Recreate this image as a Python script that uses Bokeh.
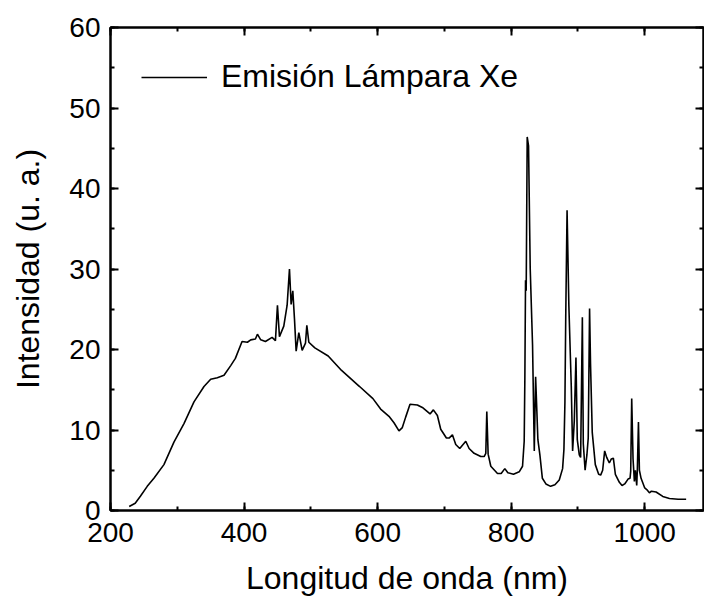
from bokeh.plotting import figure
from bokeh.models import (Range1d, LinearAxis, SingleIntervalTicker, Legend, LegendItem,
                          CustomJSTickFormatter)
from bokeh.embed import file_html
from bokeh.resources import INLINE

wavelength = [228, 237, 245, 255, 265, 280, 295, 310, 325, 340, 350, 360, 370, 380, 387, 397, 405,
              410, 417, 420, 425, 432, 442, 447, 450, 453, 459.5, 464.5, 468, 470.5, 473, 475.5,
              478, 482, 487, 492, 494, 497, 506, 526, 546, 573, 593, 604.5, 617, 624.5, 632, 637,
              642, 648.5, 659.5, 667, 678.5, 683.5, 689.5, 694.5, 703, 707, 712, 717, 723, 732,
              737, 744.5, 754.5, 759.5, 762, 763.5, 765.5, 769.5, 779.5, 785, 790.5, 795, 803.5,
              812, 817, 819.5, 820.5, 821.5, 822.5, 824, 826, 828.5, 832, 834.6, 836.6, 840, 843,
              846.7, 852, 859, 865.5, 872, 877, 879, 880.5, 881.7, 883.7, 886.4, 890, 892, 894.5,
              897, 899, 902, 904, 906.6, 908, 910.7, 913.4, 915.4, 917.4, 918.8, 921.4, 926, 931,
              934, 937, 940, 943, 947, 950, 953, 956, 962, 966, 970, 975, 978, 979, 980.5, 982.5,
              984.5, 986, 988, 989, 990.6, 992, 994.5, 1000, 1003, 1007, 1010, 1017, 1027, 1037,
              1050, 1062]
intensity = [0.5, 0.9, 1.8, 3.0, 4.0, 5.7, 8.5, 10.8, 13.5, 15.4, 16.3, 16.5, 16.8, 18.0, 18.9,
             21.0, 20.9, 21.2, 21.3, 21.9, 21.2, 21.0, 21.5, 21.1, 25.5, 21.6, 22.9, 25.5, 30.0,
             25.6, 27.3, 23.8, 19.8, 22.1, 19.9, 20.8, 23.0, 20.9, 20.2, 19.2, 17.4, 15.4, 13.9,
             12.6, 11.7, 10.9, 9.9, 10.3, 11.6, 13.2, 13.1, 12.8, 12.0, 12.5, 11.8, 10.1, 9.0, 9.0,
             9.4, 8.2, 7.7, 8.6, 7.7, 7.1, 6.7, 6.7, 7.1, 12.3, 7.0, 5.5, 4.6, 4.6, 5.2, 4.7, 4.5,
             4.8, 5.5, 8.6, 16.5, 28.6, 27.3, 46.4, 45.3, 30.1, 20.6, 7.4, 16.6, 8.8, 6.9, 4.0,
             3.3, 3.0, 3.2, 3.8, 5.2, 7.6, 13.5, 24.0, 37.3, 25.4, 15.4, 7.4, 11.1, 19.0, 8.8,
             6.9, 6.6, 24.0, 8.3, 5.0, 6.9, 9.0, 25.1, 18.3, 9.7, 5.7, 4.5, 4.4, 5.0, 7.4, 6.6,
             5.9, 6.4, 6.5, 4.5, 3.5, 3.1, 3.3, 3.9, 4.0, 4.9, 13.9, 6.4, 3.6, 5.0, 3.1, 5.2, 11.0,
             5.0, 4.0, 2.8, 2.6, 2.2, 2.4, 2.3, 1.75, 1.5, 1.4, 1.4, 1.2]

x_range = (200, 1088)
y_range = (0, 60)
series_name = "Emisión Lámpara Xe"
x_title = "Longitud de onda (nm)"
y_title = "Intensidad (u. a.)"

FONT = "Liberation Sans"

p = figure(width=704, height=598, output_backend="svg", toolbar_location=None,
           x_range=Range1d(*x_range), y_range=Range1d(*y_range),
           x_axis_location=None, y_axis_location=None,
           min_border_left=110, min_border_right=1, min_border_top=27, min_border_bottom=88)
p.grid.visible = False
p.outline_line_color = "black"
p.outline_line_width = 2
p.background_fill_color = "white"
p.border_fill_color = "white"

def make_axis(ticker_interval, show_labels):
    ax = LinearAxis(ticker=SingleIntervalTicker(interval=ticker_interval, num_minor_ticks=2))
    ax.axis_line_width = 2
    ax.major_tick_line_width = 2
    ax.minor_tick_line_width = 2
    ax.major_tick_in = 8
    ax.major_tick_out = 0
    ax.minor_tick_in = 4
    ax.minor_tick_out = 0
    if show_labels:
        ax.major_label_text_font = FONT
        ax.major_label_text_font_size = "28px"
        ax.major_label_text_color = "black"
        ax.axis_label_text_font = FONT
        ax.axis_label_text_font_size = "32px"
        ax.axis_label_text_font_style = "normal"
        ax.axis_label_text_color = "black"
    else:
        ax.formatter = CustomJSTickFormatter(code="return '';")
        ax.major_label_standoff = 0
    return ax

xb = make_axis(200, True)
xb.axis_label = x_title
xb.major_label_standoff = 12
xb.axis_label_standoff = 15
xb.axis_label_text_line_height = 0.9
p.add_layout(xb, "below")

yl = make_axis(10, True)
yl.axis_label = y_title
yl.major_label_standoff = 10
yl.axis_label_standoff = 20
p.add_layout(yl, "left")

p.add_layout(make_axis(200, False), "above")
p.add_layout(make_axis(10, False), "right")

r = p.line(wavelength, intensity, line_color="black", line_width=1.6)

legend = Legend(items=[LegendItem(label=series_name, renderers=[r])],
                location="top_left", border_line_color=None, background_fill_alpha=0,
                label_text_font=FONT, label_text_font_size="32px", label_text_color="black",
                glyph_width=66, glyph_height=20, label_standoff=14, margin=31, padding=12)
p.add_layout(legend)

open("out.html", "w").write(file_html(p, INLINE))
